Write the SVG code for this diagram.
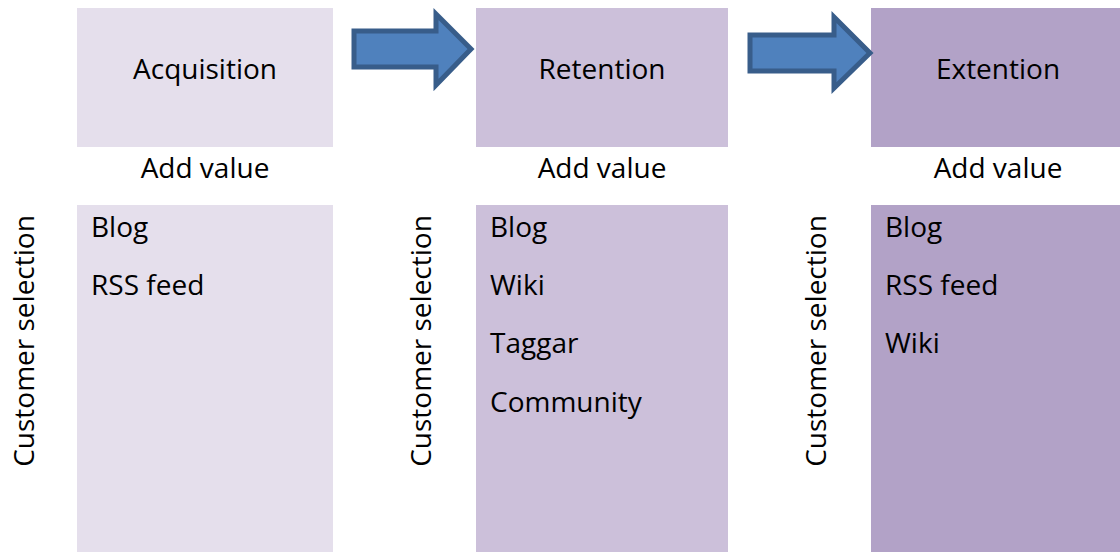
<svg xmlns="http://www.w3.org/2000/svg" width="1120" height="552" viewBox="0 0 1120 552">
  <style>
    .t { font-family: "Open Sans", Lato, "Liberation Sans", sans-serif; font-size: 28px; fill: #000; }
    .c { text-anchor: middle; }
    .p1 { fill: #e5dfec; }
    .p2 { fill: #ccc0da; }
    .p3 { fill: #b2a2c7; }
    .arrow { fill: #4f81bd; stroke: #385d8a; stroke-width: 5; stroke-linejoin: miter; }
  </style>
  <rect width="1120" height="552" fill="#ffffff"/>

  <!-- Stage 1 -->
  <g id="acquisition">
    <rect class="p1" x="77" y="8" width="256" height="139"/>
    <text class="t c" x="205" y="79">Acquisition</text>
    <text class="t c" x="205" y="178">Add value</text>
  </g>
  <g id="acquisition-items">
    <rect class="p1" x="77" y="205" width="256" height="347"/>
    <text class="t" x="91" y="237">Blog</text>
    <text class="t" x="91" y="295">RSS feed</text>
  </g>
  <g id="acquisition-label">
    <text class="t c" transform="translate(34 341) rotate(-90)">Customer selection</text>
  </g>

  <!-- Stage 2 -->
  <g id="retention">
    <rect class="p2" x="476" y="8" width="252" height="139"/>
    <text class="t c" x="602" y="79">Retention</text>
    <text class="t c" x="602" y="178">Add value</text>
  </g>
  <g id="retention-items">
    <rect class="p2" x="476" y="205" width="252" height="347"/>
    <text class="t" x="490" y="237">Blog</text>
    <text class="t" x="490" y="295">Wiki</text>
    <text class="t" x="490" y="353">Taggar</text>
    <text class="t" x="490" y="412">Community</text>
  </g>
  <g id="retention-label">
    <text class="t c" transform="translate(431 341) rotate(-90)">Customer selection</text>
  </g>

  <!-- Stage 3 -->
  <g id="extention">
    <rect class="p3" x="871" y="8" width="249" height="139"/>
    <text class="t c" x="998" y="79">Extention</text>
    <text class="t c" x="998" y="178">Add value</text>
  </g>
  <g id="extention-items">
    <rect class="p3" x="871" y="205" width="249" height="347"/>
    <text class="t" x="885" y="237">Blog</text>
    <text class="t" x="885" y="295">RSS feed</text>
    <text class="t" x="885" y="353">Wiki</text>
  </g>
  <g id="extention-label">
    <text class="t c" transform="translate(826 341) rotate(-90)">Customer selection</text>
  </g>

  <!-- Block arrows between stages -->
  <g id="connectors">
    <polygon class="arrow" points="354,31 436,31 436,14 471,49 436,85 436,67 354,67"/>
    <polygon class="arrow" points="750,35 834,35 834,17 870,53 834,88 834,71 750,71"/>
  </g>
</svg>
